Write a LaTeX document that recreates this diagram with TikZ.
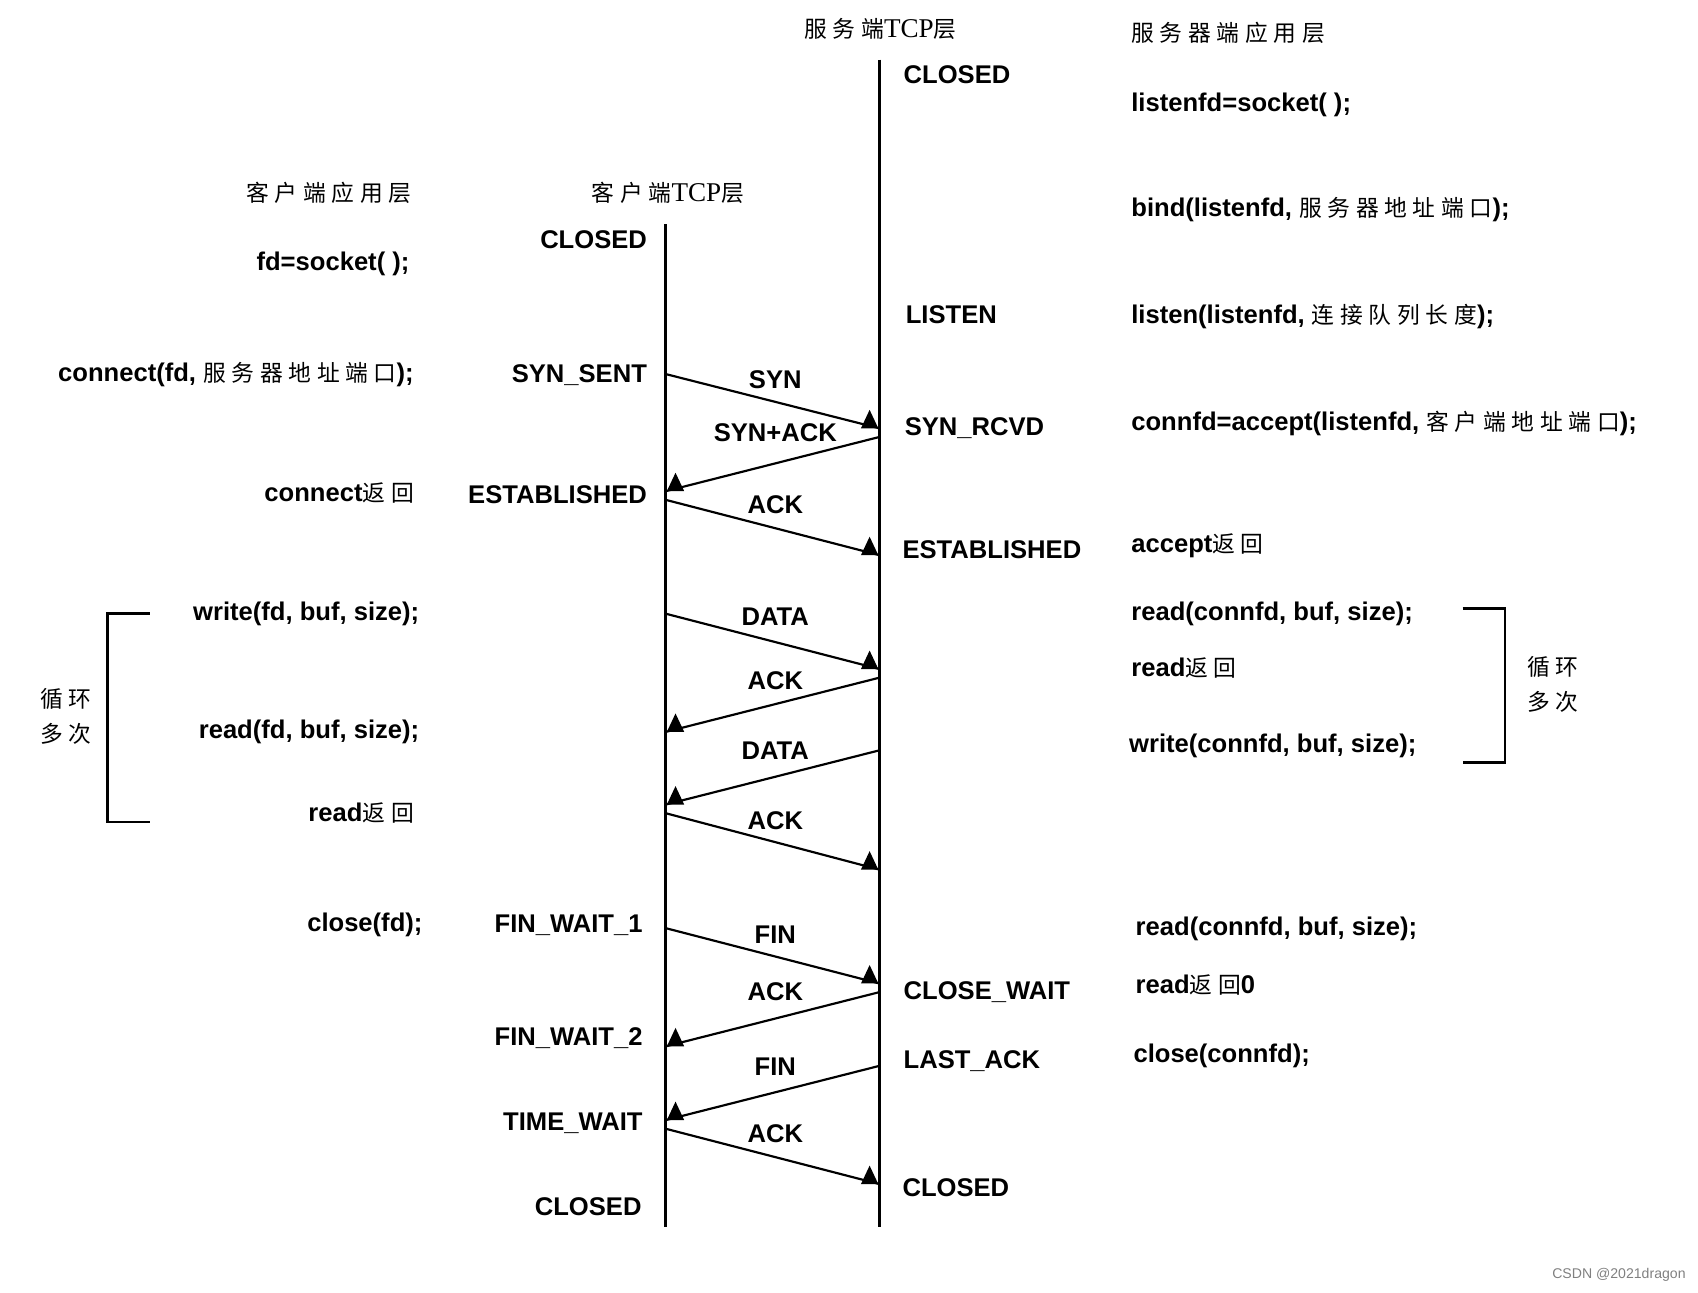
\documentclass[tikz,border=0pt]{standalone}
\usepackage{fontspec}
\setmainfont{Liberation Sans}
\newfontfamily\cjk{Noto Sans CJK SC}
\newfontfamily\serifl{Liberation Serif}
\newcommand{\zh}[1]{{\cjk\mdseries\fontsize{10.5}{12}\selectfont\addfontfeatures{LetterSpace=25}#1}}
\newcommand{\tcp}{{\serifl\mdseries\fontsize{12.5}{14}\selectfont TCP}}
\begin{document}
\begin{tikzpicture}[x=0.5pt,y=-0.5pt,
  t/.style={font=\bfseries\fontsize{11.8}{13}\selectfont, inner sep=0pt},
  L/.style={t, anchor=west},
  R/.style={t, anchor=east},
  C/.style={t, anchor=center},
  msg/.style={line width=1pt},
  life/.style={line width=1.4pt},
  br/.style={line width=1.2pt}]
\useasboundingbox (0,0) rectangle (1566,1192);
% lifelines
\coordinate (c0) at (614,207); \coordinate (c1) at (614,1132);
\coordinate (s0) at (811,55); \coordinate (s1) at (811,1132);
\draw[life] (c0) -- (c1);
\draw[life] (s0) -- (s1);
% headers
\node[C] (h1) at (812,27) {\zh{服务端}\tcp\zh{层}};
\node[L] (h2) at (1043,30) {\zh{服务器端应用层}};
\node[R] (h3) at (380,178) {\zh{客户端应用层}};
\node[C] (h4) at (616,178) {\zh{客户端}\tcp\zh{层}};
% server states
\node[L] (ss1) at (833,69) {CLOSED};
\node[L] (ss2) at (835,290) {LISTEN};
\node[L] (ss3) at (834,395) {SYN\_RCVD};
\node[L] (ss4) at (832,507) {ESTABLISHED};
\node[L] (ss5) at (833,915) {CLOSE\_WAIT};
\node[L] (ss6) at (833,979) {LAST\_ACK};
\node[L] (ss7) at (832,1095) {CLOSED};
% client states
\node[R] (cs1) at (597,221) {CLOSED};
\node[R] (cs2) at (597,346) {SYN\_SENT};
\node[R] (cs3) at (597,456) {ESTABLISHED};
\node[R] (cs4) at (593,853) {FIN\_WAIT\_1};
\node[R] (cs5) at (593,957) {FIN\_WAIT\_2};
\node[R] (cs6) at (593,1036) {TIME\_WAIT};
\node[R] (cs7) at (592,1113) {CLOSED};
% client app
\node[R] (ca1) at (378,243) {fd=socket( );};
\node[R] (ca2) at (382,345) {connect(fd, \zh{服务器地址端口});};
\node[R] (ca3) at (382,455) {connect\zh{返回}};
\node[R] (ca4) at (387,566) {write(fd, buf, size);};
\node[R] (ca5) at (387,675) {read(fd, buf, size);};
\node[R] (ca6) at (382,750) {read\zh{返回}};
\node[R] (ca7) at (390,853) {close(fd);};
% server app
\node[L] (sa1) at (1043,97) {listenfd=socket( );};
\node[L] (sa2) at (1043,193) {bind(listenfd, \zh{服务器地址端口});};
\node[L] (sa3) at (1043,292) {listen(listenfd, \zh{连接队列长度});};
\node[L] (sa4) at (1043,391) {connfd=accept(listenfd, \zh{客户端地址端口});};
\node[L] (sa5) at (1043,503) {accept\zh{返回}};
\node[L] (sa6) at (1043,566) {read(connfd, buf, size);};
\node[L] (sa7) at (1043,616) {read\zh{返回}};
\node[L] (sa8) at (1041,688) {write(connfd, buf, size);};
\node[L] (sa9) at (1047,857) {read(connfd, buf, size);};
\node[L] (sa10) at (1047,908) {read\zh{返回}0};
\node[L] (sa11) at (1045,974) {close(connfd);};
% messages
\foreach \n/\ya/\yb/\lab/\ly/\dir in {
  m1/345/395/SYN/350/r, m2/403/453/SYN+ACK/399/l, m3/461/512/ACK/465/r,
  m4/566/617/DATA/569/r, m5/625/675/ACK/628/l, m6/692/742/DATA/692/l,
  m7/750/802/ACK/757/r, m8/856/907/FIN/862/r, m9/915/965/ACK/915/l,
  m10/983/1033/FIN/984/l, m11/1041/1092/ACK/1046/r}{
  \if r\dir
    \coordinate (\n a) at (614,\ya); \coordinate (\n b) at (811,\yb);
    \draw[msg] (\n a) -- (\n b);
    \fill (\n b) ++(-1,0) -- ++(-16,0) -- ++(8,-17) -- cycle;
  \else
    \coordinate (\n a) at (811,\ya); \coordinate (\n b) at (614,\yb);
    \draw[msg] (\n a) -- (\n b);
    \fill (\n b) ++(1,0) -- ++(16,0) -- ++(-8,-17) -- cycle;
  \fi
  \node[C] (\n l) at (715,\ly) {\lab};
}
% brackets
\coordinate (b1) at (138,566); \coordinate (b2) at (99,566);
\coordinate (b3) at (99,758); \coordinate (b4) at (138,758);
\draw[br] (b1) -- (b2) -- (b3) -- (b4);
\node[C] (lp1) at (61,645) {\zh{循环}};
\node[C] (lp2) at (61,677) {\zh{多次}};
\coordinate (d1) at (1349,561); \coordinate (d2) at (1388,561);
\coordinate (d3) at (1388,703); \coordinate (d4) at (1349,703);
\draw[br] (d1) -- (d2) -- (d3) -- (d4);
\node[C] (lp3) at (1432,615) {\zh{循环}};
\node[C] (lp4) at (1432,647) {\zh{多次}};
\node[anchor=east, inner sep=0pt, text=gray, font=\fontsize{6.5}{8}\selectfont] (wm) at (1555,1176) {CSDN @2021dragon};
\end{tikzpicture}
\end{document}
